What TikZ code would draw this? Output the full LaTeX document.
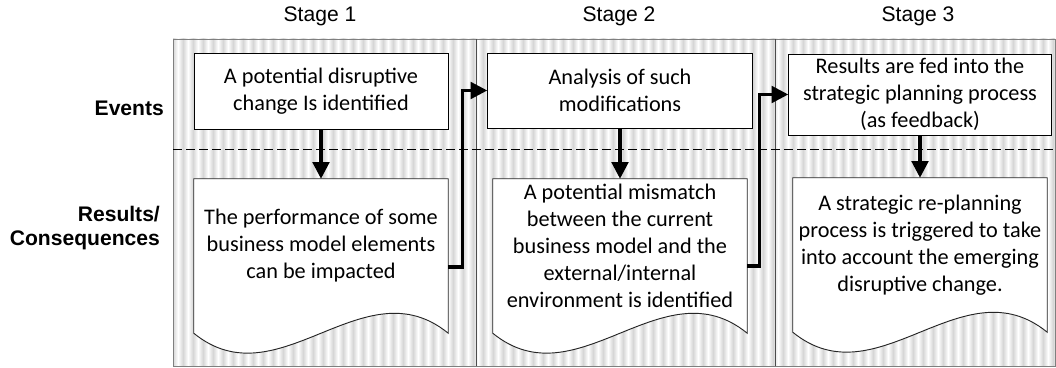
\documentclass[tikz,border=0pt]{standalone}
\usepackage{fontspec}
\setmainfont{Carlito}
\setsansfont{Liberation Sans}
\usetikzlibrary{arrows.meta, positioning, calc}
\definecolor{cframe}{HTML}{7F7F7F}
\definecolor{cstripe}{HTML}{D6D6D6}
\pgfdeclarelayer{panel}
\pgfdeclarelayer{paper}
\pgfsetlayers{panel,paper,main}
\tikzset{
  every picture/.style={line width=0.8pt},
  evbox/.style={draw, fill=white, align=center, inner sep=0pt, font=\fontsize{19}{23}\selectfont},
  docbox/.style={align=center, inner sep=0pt, minimum width=7.62cm, minimum height=4.02cm, font=\fontsize{19}{23}\selectfont},
  docline/.style={draw=black!85, fill=white, line width=0.8pt},
  arrow/.style={-{Triangle[length=5mm, width=5mm]}, line width=2.6pt},
  stage/.style={font=\sffamily\fontsize{18}{21}\selectfont},
  lane/.style={font=\sffamily\bfseries\fontsize{18}{21}\selectfont, align=right, anchor=east},
}

\begin{document}
\begin{tikzpicture}
  \useasboundingbox (0,0) rectangle (31.68,11.04);
  % striped panel, lane borders and the dashed split
  \begin{pgfonlayer}{panel}
    \begin{scope}
      \clip (5.19,0.05) rectangle (31.65,9.87);
      \foreach \x in {0,...,88}
        \shade[left color=cstripe, right color=cstripe, middle color=white] ({5.19+0.3*\x},0.05) rectangle ++(0.3,9.82);
    \end{scope}
    \draw[cframe] (5.19,0.05) rectangle (31.65,9.87);
    \draw[black!70] (14.28,0.05) -- (14.28,9.87) (23.25,0.05) -- (23.25,9.87);
    \draw[dash pattern=on 2.7mm off 1.2mm] (5.19,6.57) -- (31.65,6.57);
  \end{pgfonlayer}

  \node[stage] (s1) at (9.6,10.55) {Stage 1};
  \node[stage] (s2) at (18.57,10.55) {Stage 2};
  \node[stage] (s3) at (27.54,10.55) {Stage 3};
  \node[lane] (ev) at (5.04,7.8) {Events};
  \node[lane] (rc) at (4.92,4.2) {Results/\\Consequences};

  \node[evbox, minimum width=7.62cm, minimum height=2.28cm] (e1) at (9.63,8.31) {A potential disruptive\\change Is identified};
  \node[evbox, minimum width=7.95cm, minimum height=2.25cm] (e2) at (18.6,8.325) {Analysis of such\\modifications};
  \node[evbox, minimum width=7.89cm, minimum height=2.43cm] (e3) at (27.6,8.205) {Results are fed into the\\strategic planning process\\(as feedback)};

  \node[docbox] (d1) at (9.63,3.66) {The performance of some\\business model elements\\can be impacted};
  \node[docbox] (d2) at (18.6,3.66) {A potential mismatch\\between the current\\business model and the\\external/internal\\environment is identified};
  \node[docbox] (d3) at (27.6,3.69) {A strategic re-planning\\process is triggered to take\\into account the emerging\\disruptive change.};

  % document outlines with the wavy foot
  \begin{pgfonlayer}{paper}
    \foreach \d in {d1,d2,d3}
      \draw[docline] (\d.north west) -- (\d.north east) -- ([yshift=-6mm]\d.south east)
        .. controls +(-2.54,2.07) and +(2.54,-2.07) .. ([yshift=-6mm]\d.south west) -- cycle;
  \end{pgfonlayer}

  \draw[arrow] (e1.south) -- (d1.north);
  \draw[arrow] (e2.south) -- (d2.north);
  \draw[arrow] (e3.south) -- (d3.north);
  \draw[arrow] ([yshift=-6.3mm]d1.east) -- ++(0.42,0) |- (e2.west);
  \draw[arrow] ([yshift=-6mm]d2.east) -- ++(0.36,0) |- (e3.west);
\end{tikzpicture}
\end{document}
